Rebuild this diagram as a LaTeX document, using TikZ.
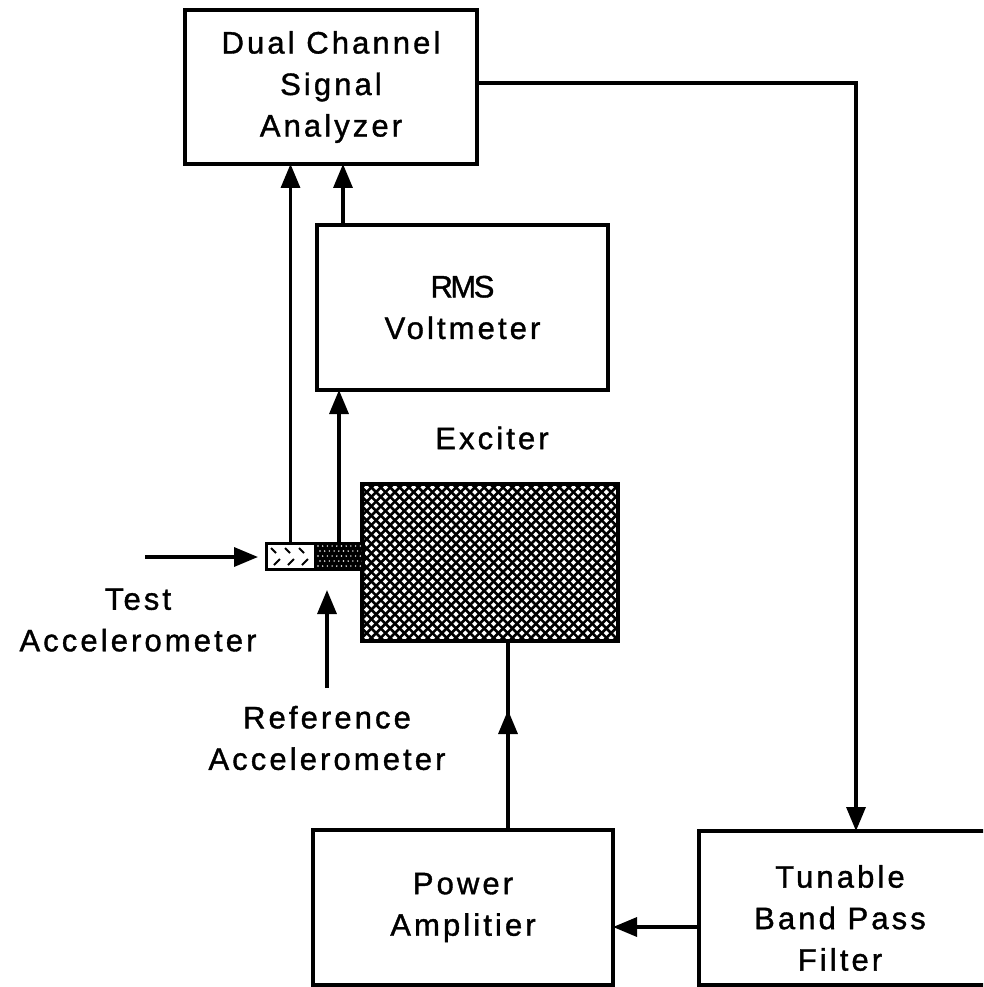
\documentclass[tikz,border=0pt]{standalone}
\usepackage{fontspec}
\setmainfont{Liberation Sans}[LetterSpace=10,FakeBold=1.2]
\usetikzlibrary{arrows.meta,calc}
\begin{document}
\begin{tikzpicture}[x=1pt,y=-1pt,
  box/.style={draw,line width=4pt,inner sep=0pt,outer sep=0pt},
  lab/.style={font=\fontsize{31}{41.5}\selectfont,align=center,inner sep=0pt},
  wire/.style={line width=3.4pt},
  conn/.style={line width=3.4pt,-{Triangle[length=24pt,width=19pt]}},
  hatchline/.style={line width=2.6pt}]
\useasboundingbox (0,0) rectangle (983,987);
\clip (0,0) rectangle (983,987);

% boxes
\node[box,lab,minimum width=292pt,minimum height=154pt] (ana) at (331,87)
  {Dual Channel\\Signal\\Analyzer};
\node[box,lab,minimum width=291pt,minimum height=165pt] (rms) at (462.5,307.5)
  {{\addfontfeatures{LetterSpace=-8}RMS}\\Voltmeter};
\node[box,minimum width=256pt,minimum height=157pt,
  path picture={
    \foreach \i in {-20,...,48}{
      \draw[hatchline] ($(path picture bounding box.north west)+(9.4*\i,-6)$) -- ++(175,175);
      \draw[hatchline] ($(path picture bounding box.north west)+(9.4*\i,-6)$) -- ++(-175,175);
    }
  }] (exc) at (490,562.5) {};
\node[box,lab,minimum width=300pt,minimum height=155pt] (amp) at (463,907.5)
  {Power\\Amplitier};
\node[box,minimum width=320pt,minimum height=154pt,anchor=north west] (filt) at (699,831) {};
\node[lab] (ftx) at (840,918) {Tunable\\Band Pass\\Filter};

% accelerometers
\node[box,line width=3pt,fill=white,minimum width=49pt,minimum height=26pt] (ta) at (290.5,556) {};
\draw[line width=1.8pt] (271,548) -- (276,553) (274,565) -- (280,559)
  (285,548) -- (290,553) (288,565) -- (294,559) (299,548) -- (304,553) (302,565) -- (308,559);
\node[box,line width=3pt,fill=black,minimum width=48pt,minimum height=26pt,
  path picture={
    \foreach \a in {0,...,9}{\foreach \b/\o in {0/0,1/2,2/0,3/2,4/0}{
      \fill[white] ($(path picture bounding box.north west)+({3+4.7*\a+\o},{3+5*\b})$) circle (0.8pt);
    }}
  }] (ra) at (339,556) {};

% labels
\node[lab] (exl) at (492,438) {Exciter};
\node[lab] (tl) at (138,620) {Test\\Accelerometer};
\node[lab] (rl) at (327,738) {Reference\\Accelerometer};

% helper coordinates
\coordinate (r3) at (343,0);
\coordinate (lt) at (145,557);
\coordinate (ub) at (327,688);
\coordinate (ax) at (508,710);
\coordinate (k1) at (856,83);
\coordinate (k2) at (0,927);

% connectors
\draw[conn] (ta.north) -- (ta.north |- ana.south);
\draw[conn] (ra.north) -- (ra.north |- rms.south);
\draw[conn] (rms.north -| r3) -- (ana.south -| r3);
\draw[conn,shorten >=8pt] (lt) -- (lt -| ta.west);
\draw[conn,shorten >=21pt] (ub) -- (ub |- ra.south);
\draw[wire] (amp.north -| ax) -- (exc.south -| ax);
\draw[conn] (amp.north -| ax) -- (ax);
\draw[conn] (ana.east |- k1) -| (filt.north -| k1);
\draw[conn] (filt.west |- k2) -- (amp.east |- k2);
\end{tikzpicture}
\end{document}
